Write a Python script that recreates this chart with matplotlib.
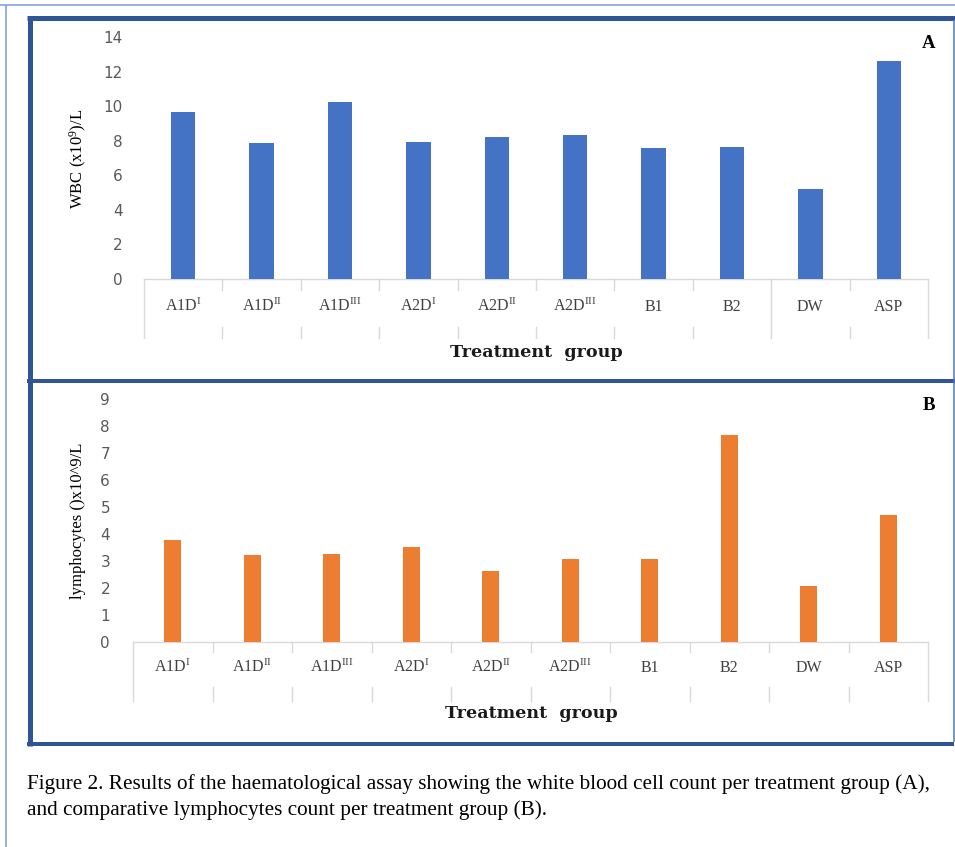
import matplotlib
matplotlib.use('Agg')
import matplotlib.pyplot as plt
from matplotlib.lines import Line2D
from matplotlib.transforms import blended_transform_factory
import numpy as np

# treatment groups and values
groups = ['A1D$^{\\mathrm{I}}$', 'A1D$^{\\mathrm{II}}$', 'A1D$^{\\mathrm{III}}$',
          'A2D$^{\\mathrm{I}}$', 'A2D$^{\\mathrm{II}}$', 'A2D$^{\\mathrm{III}}$',
          'B1', 'B2', 'DW', 'ASP']
wbc = [9.64, 7.85, 10.22, 7.90, 8.19, 8.35, 7.58, 7.65, 5.19, 12.63]
lymph = [3.78, 3.23, 3.28, 3.53, 2.63, 3.07, 3.07, 7.68, 2.07, 4.73]

caption = ['Figure 2. Results of the haematological assay showing the white blood cell count per treatment group (A),',
           'and comparative lymphocytes count per treatment group (B).']

plt.rcParams['mathtext.fontset'] = 'custom'
plt.rcParams['mathtext.rm'] = 'Liberation Serif'
plt.rcParams['mathtext.it'] = 'Liberation Serif:italic'
plt.rcParams['mathtext.bf'] = 'Liberation Serif:bold'

W, H = 955, 847
fig = plt.figure(figsize=(W / 100, H / 100), dpi=100)


def fx(x):
    return x / W


def fy(y):
    return 1 - y / H


def line(x0, y0, x1, y1, color, lw):
    # lw given in pixels
    fig.add_artist(Line2D([fx(x0), fx(x1)], [fy(y0), fy(y1)], color=color, lw=lw * 0.72,
                          transform=fig.transFigure, solid_capstyle='butt'))


def panel(left, right, zero, top, vals, color, ymax, step, barw, ypad,
          base_off, tick_len, low0, low1, full=(0, 10)):
    ax = fig.add_axes([fx(left), fy(zero), (right - left) / W, (zero - top) / H])
    x = np.arange(len(vals))
    ax.bar(x, vals, width=barw, color=color, zorder=3)
    ax.set_xlim(-0.5, len(vals) - 0.5)
    ax.set_ylim(0, ymax)
    ax.set_yticks(np.arange(0, ymax + 1, step))
    for s in ['left', 'right', 'top']:
        ax.spines[s].set_visible(False)
    ax.spines['bottom'].set_color('#D9D9D9')
    ax.spines['bottom'].set_linewidth(1.0)
    ax.tick_params(axis='y', length=0, pad=ypad, labelsize=11, labelcolor='#595959')
    ax.set_xticks([])
    axh = zero - top
    tr = blended_transform_factory(ax.transData, ax.transAxes)
    for i, g in enumerate(groups):
        ax.text(i, -base_off / axh, g, transform=tr, ha='center', va='baseline',
                fontfamily='Liberation Serif', fontsize=11.5, color='#404040')
    for i in range(len(vals) + 1):
        xb = i - 0.5
        if i in full:
            segs = [(0, low1)]
        else:
            segs = [(0, tick_len), (low0, low1)]
        for a, b in segs:
            ax.plot([xb, xb], [-a / axh, -b / axh], transform=tr, color='#D9D9D9',
                    lw=1.0, clip_on=False)
    return ax


axA = panel(144, 928, 279, 37, wbc, '#4472C4', 14, 2, 0.31, 15.4,
            31.7, 11, 48, 59, full=(0, 8, 10))
axB = panel(133, 928, 642.3, 399.3, lymph, '#ED7D31', 9, 1, 0.22, 16.5,
            29.4, 9.5, 44.4, 58.4)

# axis titles
fig.text(fx(78), fy(159), 'WBC (x10$^{9}$)/L', rotation=90, ha='center', va='center',
         fontfamily='Liberation Serif', fontsize=12, color='black')
fig.text(fx(78), fy(521), 'lymphocytes ()x10^9/L', rotation=90, ha='center', va='center',
         fontfamily='Liberation Serif', fontsize=12, color='black')
fig.text(fx(536), fy(352), 'Treatment  group', ha='center', va='center',
         fontfamily='DejaVu Serif', fontweight='bold', fontsize=12.6, color='#1a1a1a')
fig.text(fx(531), fy(713), 'Treatment  group', ha='center', va='center',
         fontfamily='DejaVu Serif', fontweight='bold', fontsize=12.6, color='#1a1a1a')
fig.text(fx(929), fy(43), 'A', ha='center', va='center', fontfamily='Liberation Serif',
         fontweight='bold', fontsize=13.5, color='black')
fig.text(fx(929), fy(406), 'B', ha='center', va='center', fontfamily='Liberation Serif',
         fontweight='bold', fontsize=13.5, color='black')

# caption
fig.text(fx(27), fy(789), caption[0], ha='left', va='baseline', fontfamily='Liberation Serif',
         fontsize=15.3, color='black')
fig.text(fx(27), fy(815), caption[1], ha='left', va='baseline', fontfamily='Liberation Serif',
         fontsize=15.3, color='black')

# outer thin frame
line(0, 5, W, 5, '#7F9FDA', 1.6)
line(6, 5, 6, H, '#7F9FDA', 1.6)

# thick panel frames
dark = '#2F5597'
line(29.5, 16, 29.5, 746, dark, 5)
line(27, 18.5, W, 18.5, dark, 5)
line(27, 381, W, 381, dark, 4)
line(27, 744, 954, 744, dark, 4)
line(954, 20, 954, 742, '#4F74C0', 1.5)

fig.savefig('out.png', dpi=100)
